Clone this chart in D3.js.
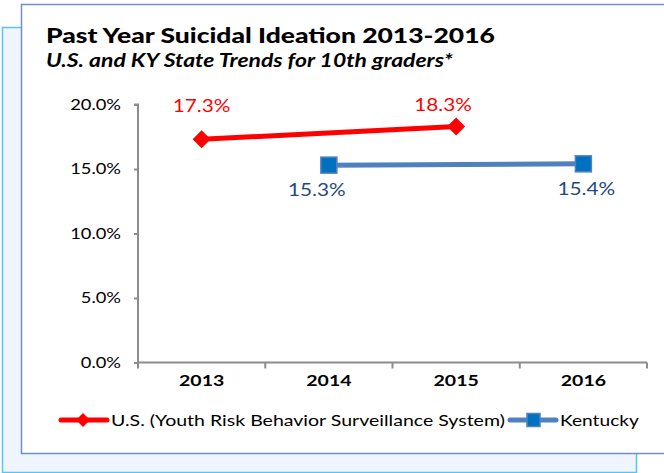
<!DOCTYPE html>
<html>
<head>
<meta charset="utf-8">
<script src="https://cdn.jsdelivr.net/npm/d3@7"></script>
<style>
  html, body { margin: 0; padding: 0; background: #ffffff; }
  svg { display: block; }
  text { font-family: Lato, "Open Sans", sans-serif; }
</style>
</head>
<body>
<svg id="chart" width="664" height="473"></svg>
<script>
// Past-year suicidal ideation, 10th graders
const years = ["2013", "2014", "2015", "2016"];
const usYears = ["2013", "2015"];
const usValues = [17.3, 18.3];
const kyYears = ["2014", "2016"];
const kyValues = [15.3, 15.4];
const yTicks = [0, 5, 10, 15, 20];
const seriesNames = ["U.S. (Youth Risk Behavior Surveillance System)", "Kentucky"];

const svg = d3.select("#chart");
const FONT = "Lato, 'Open Sans', sans-serif";
const WIDEN = 1.22; // horizontal widening applied to all text

// backdrop panel and chart frame
svg.append("rect").attr("x", 2.5).attr("y", 27.5).attr("width", 634).attr("height", 445)
  .attr("fill", "#eef5fc").attr("stroke", "#5cc2ee").attr("stroke-width", 1.5);
svg.append("rect").attr("x", 21.5).attr("y", 4.5).attr("width", 660).attr("height", 449)
  .attr("fill", "#ffffff").attr("stroke", "#6f90c8").attr("stroke-width", 1.5);

// titles
svg.append("text").attr("class", "wide").attr("x", 46).attr("y", 43)
  .attr("font-size", 21.7).attr("font-weight", "900").attr("fill", "#000")
  .text("Past Year Suicidal Ideation 2013-2016");
svg.append("text").attr("class", "wide").attr("x", 46).attr("y", 67)
  .attr("font-size", 18.8).attr("font-weight", "bold").attr("font-style", "italic").attr("fill", "#000")
  .text("U.S. and KY State Trends for 10th graders*");

// scales
const x = d3.scaleBand().domain(years).range([138, 647]);
const y = d3.scaleLinear().domain([0, 20]).range([362.5, 104.5]);

const axisColor = "#8c8c8c";

// y axis
const yAxis = svg.append("g").attr("transform", "translate(138,0)")
  .call(d3.axisLeft(y).tickValues(yTicks).tickSize(4).tickPadding(13)
    .tickFormat(d => d.toFixed(1) + "%"));
yAxis.select(".domain").attr("stroke", axisColor).attr("stroke-width", 2)
  .attr("d", "M-4," + y(20) + "H0V" + y(0));
yAxis.selectAll(".tick line").attr("stroke", axisColor).attr("stroke-width", 2);
yAxis.selectAll(".tick text").attr("class", "wide").attr("font-size", 15).attr("fill", "#000")
  .style("font-family", FONT);

// x axis with ticks on category boundaries
const xAxis = svg.append("g").attr("transform", "translate(0," + y(0) + ")")
  .call(d3.axisBottom(x).tickSize(0).tickPadding(12));
xAxis.select(".domain").attr("stroke", axisColor).attr("stroke-width", 2)
  .attr("d", "M" + x.range()[0] + ",0H" + x.range()[1]);
xAxis.selectAll(".tick text").attr("class", "wide").attr("font-size", 16).attr("font-weight", "bold")
  .attr("fill", "#000").style("font-family", FONT);
const bounds = years.map(d => x(d)).concat([x.range()[1]]);
xAxis.selectAll(".bound").data(bounds).enter().append("line")
  .attr("x1", d => d).attr("x2", d => d).attr("y1", 0).attr("y2", 6)
  .attr("stroke", axisColor).attr("stroke-width", 2);

const cx = d => x(d) + x.bandwidth() / 2;

const usData = usYears.map((d, i) => ({ year: d, value: usValues[i] }));
const kyData = kyYears.map((d, i) => ({ year: d, value: kyValues[i] }));
const line = d3.line().x(d => cx(d.year)).y(d => y(d.value));

// U.S. series
svg.append("path").datum(usData).attr("d", line)
  .attr("fill", "none").attr("stroke", "#ff0000").attr("stroke-width", 5);
svg.selectAll(".usm").data(usData).enter().append("path")
  .attr("transform", d => "translate(" + cx(d.year) + "," + y(d.value) + ")")
  .attr("d", "M0,-9L9,0L0,9L-9,0Z").attr("fill", "#ff0000");
const usLabelDx = [0, -13];
svg.selectAll(".usl").data(usData).enter().append("text")
  .attr("class", "wide")
  .attr("x", (d, i) => cx(d.year) + usLabelDx[i])
  .attr("y", d => Math.max(y(d.value) - 27, 111))
  .attr("text-anchor", "middle").attr("font-size", 17).attr("fill", "#ff0000")
  .text(d => d.value.toFixed(1) + "%");

// Kentucky series
svg.append("path").datum(kyData).attr("d", line)
  .attr("fill", "none").attr("stroke", "#4f81bd").attr("stroke-width", 5);
svg.selectAll(".kym").data(kyData).enter().append("rect")
  .attr("x", d => cx(d.year) - 8).attr("y", d => y(d.value) - 8)
  .attr("width", 16).attr("height", 16)
  .attr("fill", "#0070c0").attr("stroke", "#4f81bd").attr("stroke-width", 1.5);
const kyLabelDx = [-12, 3];
svg.selectAll(".kyl").data(kyData).enter().append("text")
  .attr("class", "wide")
  .attr("x", (d, i) => cx(d.year) + kyLabelDx[i])
  .attr("y", d => y(d.value) + 31)
  .attr("text-anchor", "middle").attr("font-size", 17).attr("fill", "#1f497d")
  .text(d => d.value.toFixed(1) + "%");

// legend
const lg = svg.append("g").attr("transform", "translate(0,420)");
lg.append("line").attr("x1", 61).attr("x2", 107).attr("y1", 0).attr("y2", 0)
  .attr("stroke", "#ff0000").attr("stroke-width", 5).attr("stroke-linecap", "round");
lg.append("path").attr("transform", "translate(83,0)").attr("d", "M0,-7L7,0L0,7L-7,0Z").attr("fill", "#ff0000");
lg.append("text").attr("class", "wide").attr("x", 111).attr("y", 6).attr("font-size", 16)
  .attr("fill", "#000").text(seriesNames[0]);
lg.append("line").attr("x1", 510).attr("x2", 556).attr("y1", 0).attr("y2", 0)
  .attr("stroke", "#4f81bd").attr("stroke-width", 5).attr("stroke-linecap", "round");
lg.append("rect").attr("x", 527).attr("y", -6.5).attr("width", 13).attr("height", 13)
  .attr("fill", "#0070c0").attr("stroke", "#4f81bd").attr("stroke-width", 1.5);
lg.append("text").attr("class", "wide").attr("x", 560).attr("y", 6).attr("font-size", 15.7)
  .attr("fill", "#000").text(seriesNames[1]);

// widen glyphs horizontally while keeping their height
svg.selectAll("text.wide").each(function () {
  const len = this.getComputedTextLength();
  d3.select(this).attr("textLength", len * WIDEN).attr("lengthAdjust", "spacingAndGlyphs");
});
</script>
</body>
</html>
